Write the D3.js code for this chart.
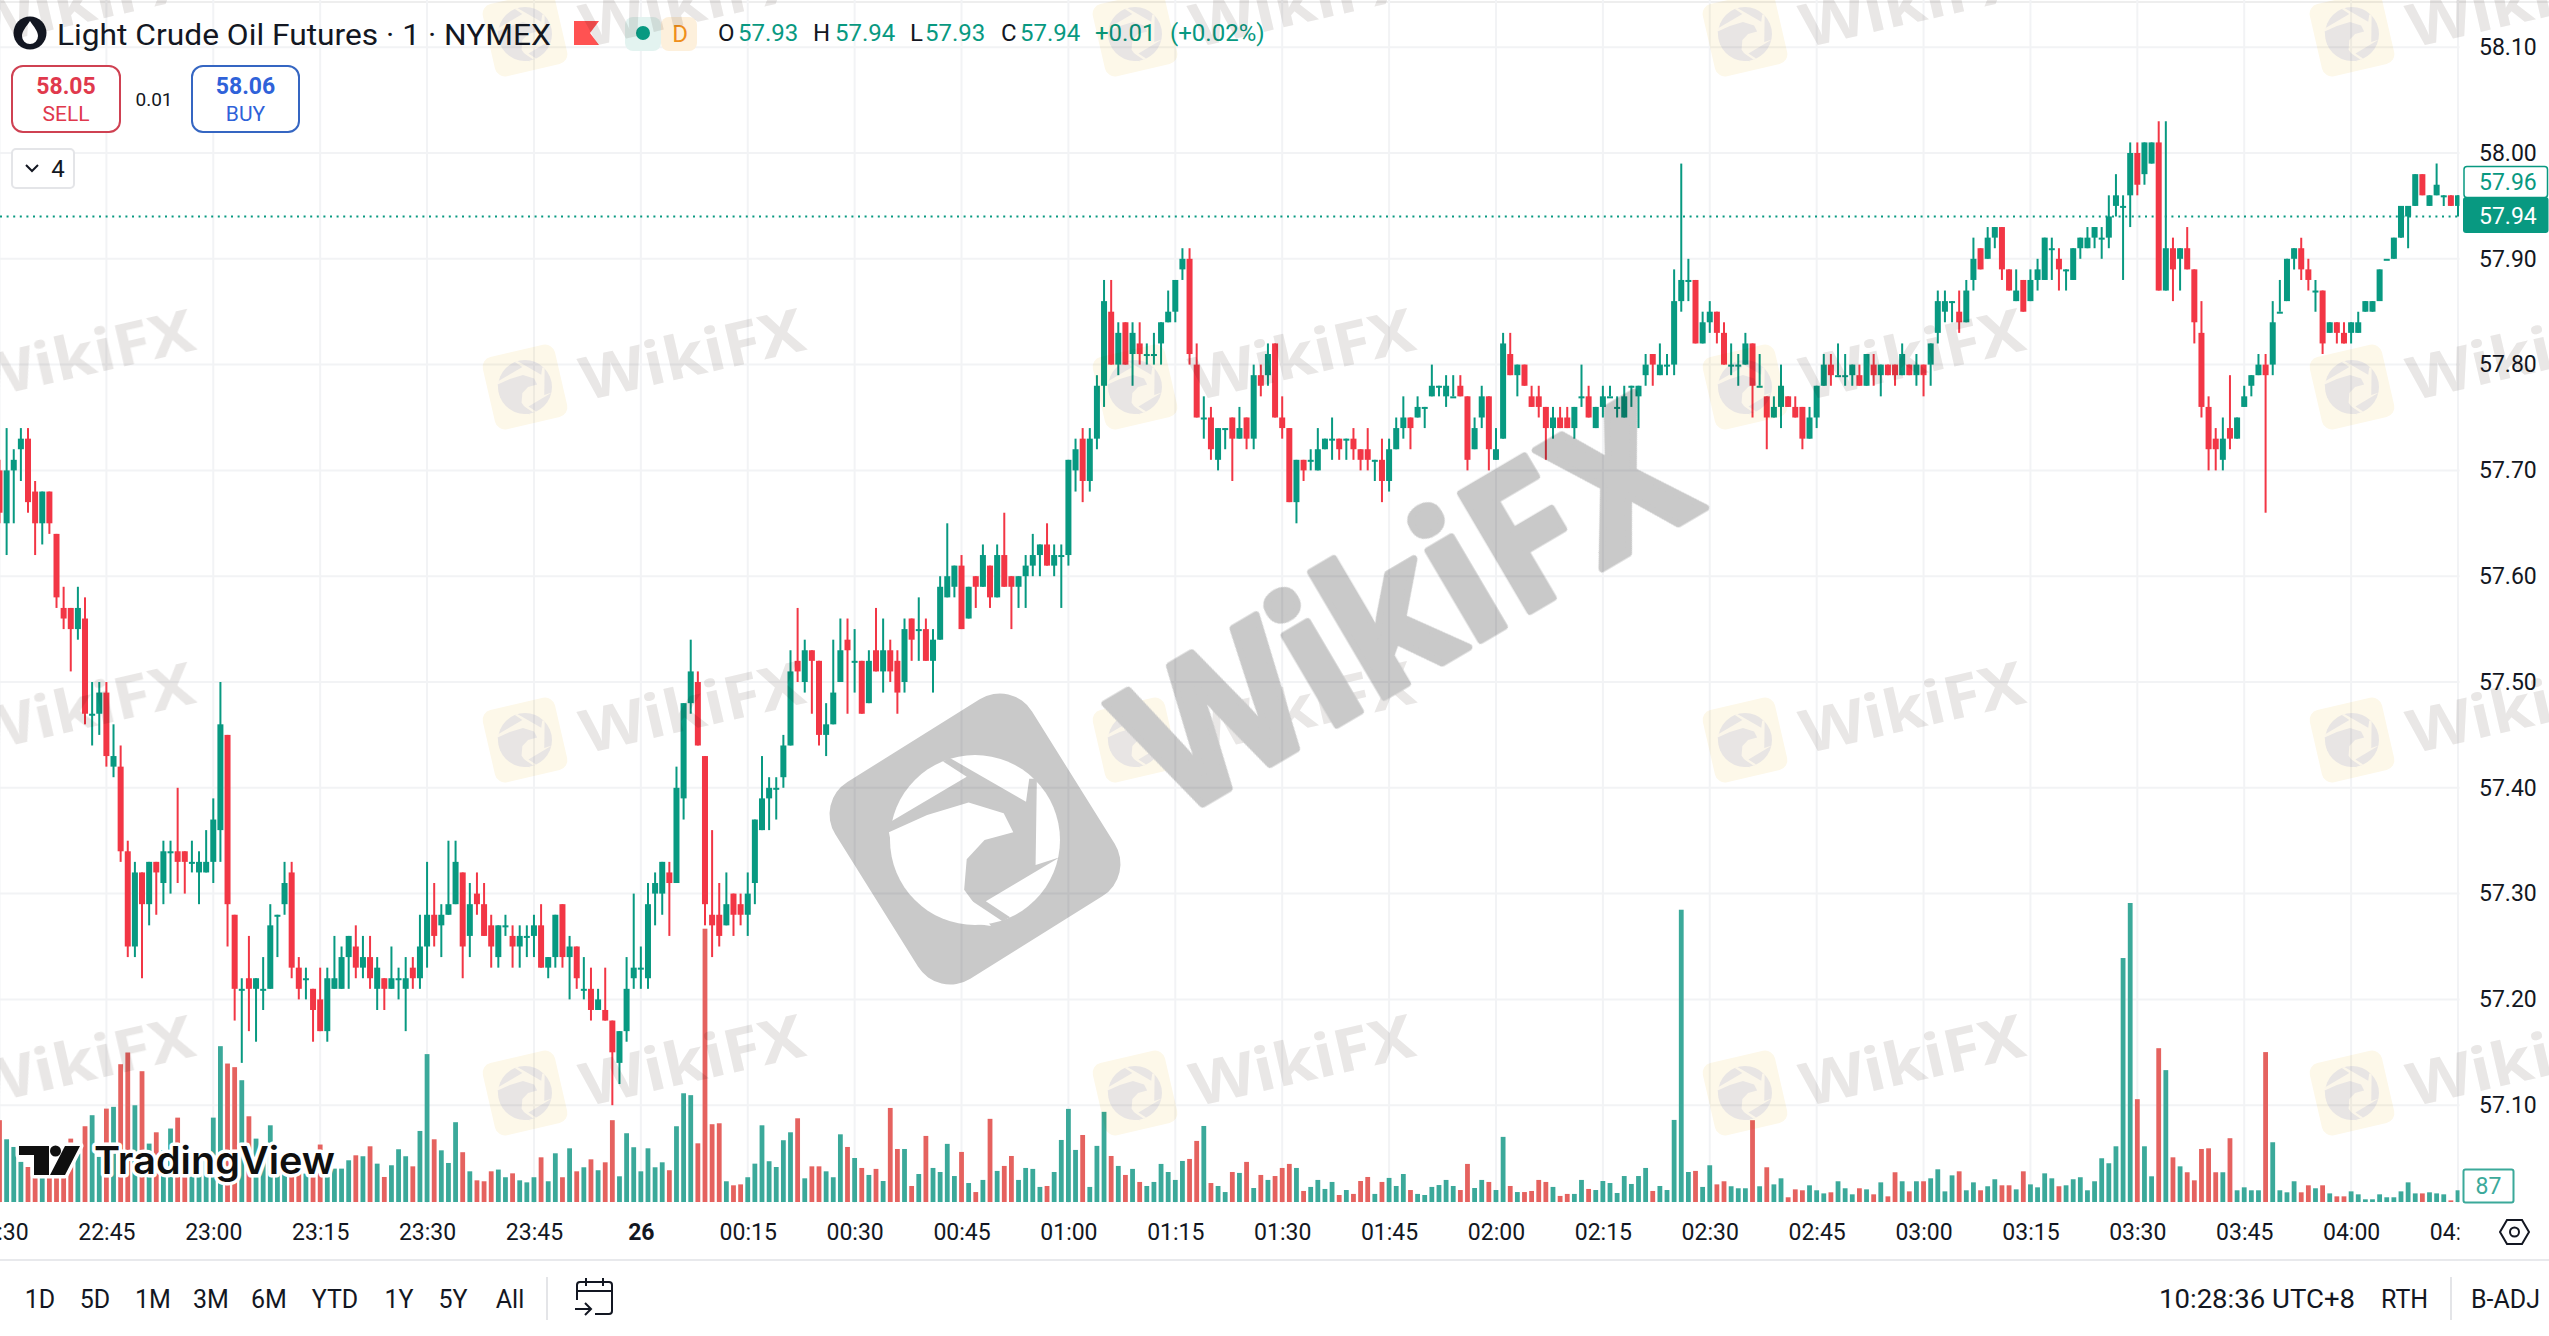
<!DOCTYPE html>
<html>
<head>
<meta charset="utf-8">
<script src="https://cdn.jsdelivr.net/npm/d3@7/dist/d3.min.js"></script>
<style>
  html, body { margin: 0; padding: 0; background: #fff; }
  svg { display: block; }
  text { font-family: Roboto, sans-serif; fill: #131722; }
  .axis path, .axis line { display: none; }
  .wm { mix-blend-mode: multiply; }
</style>
</head>
<body>
<svg id="chart" width="2549" height="1336"></svg>
<script>
// prices are stored in cents above 57.00, one row = 15 one-minute bars
const priceBase = 57;

const opens = [
  70,65,70,72,73,68,65,68,64,57,57,55,56,47,47,
  49,42,42,34,25,32,29,33,31,34,34,34,33,32,32,
  33,36,45,28,21,22,21,21,21,28,29,32,23,22,21,
  20,17,21,21,24,25,23,24,21,22,21,22,21,23,22,
  25,28,27,28,29,32,26,30,29,27,24,27,26,25,26,
  26,27,23,24,29,24,25,21,21,19,19,18,14,17,22,
  23,22,30,30,32,31,39,48,50,43,28,28,27,30,29,
  28,31,36,39,40,41,44,52,50,53,52,45,46,50,54,
  52,52,48,53,51,53,52,50,56,55,55,52,54,58,59,
  61,56,60,59,61,58,62,60,59,60,61,62,63,61,62,
  62,70,73,69,73,78,85,80,84,81,82,81,81,82,84,
  85,89,90,80,75,75,71,74,75,73,75,73,79,79,82,
  75,74,67,71,71,70,72,73,73,73,73,72,72,71,71,
  69,72,74,75,75,76,77,78,77,77,78,77,72,75,77,
  71,73,81,79,80,77,77,76,74,75,75,74,77,77,74,
  76,77,76,75,78,77,79,81,79,80,80,86,88,88,82,
  84,85,83,80,80,80,82,78,77,75,76,77,76,76,73,
  75,78,80,79,79,79,79,78,80,79,80,80,79,80,79,
  80,80,83,85,86,85,84,88,91,90,92,93,89,86,88,
  86,88,88,91,90,89,88,91,91,92,92,92,95,95,96,
  100,98,99,101,87,91,90,91,89,83,76,73,71,74,73,
  76,78,79,80,80,85,86,90,91,89,87,87,83,84,83,
  83,83,85,85,86,90,90,92,94,95,98,95,96,96,96,95
];
const highs = [
  71,74,72,74,74,69,68,68,64,59,57,59,58,50,50,
  50,46,44,35,33,32,33,33,35,35,40,34,35,34,36,
  39,50,45,28,22,26,22,24,29,28,33,33,24,23,21,
  23,23,26,25,26,27,26,26,24,22,25,23,24,24,28,
  33,31,29,35,35,32,31,32,31,28,27,28,27,27,27,
  28,29,24,28,29,26,25,24,23,21,23,18,17,24,30,
  25,31,32,33,33,42,48,54,51,43,36,31,32,30,30,
  32,37,43,41,41,45,53,57,54,53,52,48,54,56,56,
  55,52,53,57,56,54,53,56,56,58,56,55,60,65,61,
  62,59,60,63,61,63,66,60,60,62,64,63,65,63,63,
  71,73,74,74,79,88,88,84,84,84,84,82,83,84,87,
  88,91,91,82,77,76,74,74,75,76,75,80,80,82,82,
  77,74,71,71,72,74,73,75,73,73,74,72,74,71,73,
  73,75,77,75,77,76,80,78,79,79,79,77,75,78,77,
  74,83,83,80,80,78,78,76,76,76,76,76,80,78,76,
  78,78,77,78,78,78,81,81,82,81,89,99,90,88,85,
  86,85,84,82,81,83,82,81,77,77,80,77,77,76,76,
  78,81,81,82,81,80,80,81,81,80,80,80,82,80,81,
  80,82,87,87,86,87,88,92,91,93,93,93,89,89,88,
  89,90,92,92,91,89,91,92,93,93,93,96,98,96,101,
  101,101,101,103,103,92,91,93,89,86,77,74,75,79,75,
  78,79,81,81,86,88,90,91,92,90,88,87,84,84,84,
  84,85,86,86,89,90,92,95,95,98,98,96,99,96,96,96
];
const lows = [
  65,62,65,69,66,62,63,64,57,55,51,54,46,44,45,
  42,41,33,24,24,22,27,28,29,30,31,30,32,29,32,
  31,33,25,18,14,17,16,19,21,24,28,22,20,20,16,
  17,16,21,21,21,22,22,21,19,19,21,20,17,21,21,
  23,25,24,28,29,22,24,28,26,23,23,26,23,23,24,
  24,23,22,23,23,20,21,20,18,19,18,10,12,16,21,
  21,21,27,28,26,31,37,47,44,27,24,25,27,26,27,
  26,29,36,36,37,40,44,50,49,47,44,43,46,50,47,
  49,47,48,51,49,50,47,49,52,52,52,49,54,58,58,
  55,56,57,59,57,58,59,55,57,57,60,60,61,60,57,
  61,68,67,68,72,76,80,79,80,78,80,80,80,80,84,
  84,88,80,75,73,71,70,72,69,73,72,72,77,78,75,
  73,67,65,69,70,70,72,71,71,71,71,70,70,69,67,
  68,72,73,72,75,74,77,77,76,77,77,70,72,74,70,
  71,73,79,77,78,76,75,71,73,74,74,73,76,75,74,
  75,77,75,75,76,74,78,78,79,79,79,85,86,82,82,
  83,82,80,79,78,80,75,78,72,75,74,76,75,72,73,
  74,78,78,79,78,78,78,78,78,77,79,78,79,79,78,
  77,78,82,84,84,83,84,87,89,90,91,88,87,86,85,
  86,87,88,88,87,87,88,90,91,91,90,91,94,88,93,
  96,97,99,87,87,86,87,89,82,75,70,70,70,72,73,
  76,77,79,66,79,85,86,89,88,87,85,81,83,82,82,
  82,83,85,85,86,90,90,92,91,95,96,95,96,95,95,94
];
const closes = [
  66,70,71,73,67,65,68,65,58,56,55,57,47,47,49,
  43,43,34,25,32,29,33,32,34,34,33,33,33,33,33,
  37,46,29,21,21,21,22,21,27,28,31,23,21,22,19,
  17,22,22,24,26,23,24,22,23,21,22,22,22,22,25,
  28,26,28,29,33,25,29,29,26,25,27,27,25,26,26,
  27,23,24,28,24,25,22,21,19,20,18,15,17,21,23,
  23,29,31,33,31,40,48,51,44,29,27,26,29,28,28,
  30,37,39,40,40,44,51,51,53,52,45,46,49,53,53,
  52,47,52,51,53,51,49,55,54,55,52,54,59,60,61,
  55,59,59,62,58,62,59,59,60,61,62,63,61,62,62,
  71,72,69,73,78,86,80,83,80,83,81,81,81,84,85,
  88,90,81,75,75,72,74,74,73,74,73,79,78,81,75,
  74,67,71,70,71,72,73,73,72,73,72,71,71,71,69,
  72,74,75,74,76,76,78,78,78,77,77,71,74,77,72,
  72,82,79,80,78,76,76,74,75,74,74,76,77,75,76,
  77,77,76,77,78,78,80,80,80,80,86,88,88,82,84,
  85,83,80,80,80,82,78,78,75,76,78,76,75,73,75,
  78,80,79,79,79,80,78,81,79,80,79,79,81,79,80,
  79,82,86,86,86,84,87,90,89,92,93,89,87,87,85,
  88,89,92,91,89,89,91,92,92,93,92,94,96,95,100,
  97,101,101,87,91,89,91,89,84,76,72,72,73,73,75,
  77,79,80,79,84,85,90,91,89,88,87,82,84,83,82,
  84,84,86,86,89,90,92,95,95,98,96,96,97,96,95,96
];
const volumes = [
  608,466,409,298,260,236,211,236,260,223,471,360,563,645,335,
  694,707,1024,1111,719,972,434,518,384,546,627,335,285,360,310,
  627,1158,1029,1002,905,637,471,384,570,236,211,211,260,211,198,
  427,236,248,248,310,347,340,414,285,186,273,392,340,265,528,
  1099,466,384,290,593,370,228,161,154,228,241,184,213,161,146,
  184,332,154,362,184,399,228,258,317,236,295,608,191,511,407,
  228,399,258,295,236,563,808,794,436,2031,578,585,154,124,131,
  184,285,570,303,260,459,518,622,176,265,265,228,184,503,409,
  327,253,201,246,156,699,394,394,119,208,491,253,223,432,193,
  372,141,74,164,618,231,268,342,164,253,246,112,119,223,461,
  692,387,498,112,417,670,342,268,201,246,149,119,149,283,223,
  164,305,320,454,565,141,119,74,223,216,298,104,201,164,193,
  253,283,253,82,112,164,97,149,52,89,60,156,186,60,149,
  179,119,208,89,60,52,112,126,164,119,89,283,104,164,149,
  89,484,119,74,74,82,164,149,112,45,60,60,164,97,89,
  156,141,67,193,134,193,253,82,119,89,610,2172,223,231,112,
  273,131,154,117,102,102,608,117,258,131,176,35,94,87,124,
  87,64,72,154,102,57,102,94,57,146,42,221,154,79,154,
  154,176,243,79,198,228,87,146,87,117,169,124,124,94,228,
  131,109,213,176,117,124,169,184,87,154,325,288,414,1813,2222,
  764,414,191,1143,980,332,265,221,161,394,399,221,221,474,87,
  109,87,87,1114,444,87,72,154,72,124,102,124,64,42,42,
  79,57,20,20,57,35,35,79,146,64,64,72,64,57,12,87
];

// one label every 15 bars, the first sits at bar 0 (22:30)
const timeLabels = [
  "22:30","22:45","23:00","23:15","23:30","23:45","26","00:15","00:30","00:45","01:00","01:15",
  "01:30","01:45","02:00","02:15","02:30","02:45","03:00","03:15","03:30","03:45","04:00","04:15"
];
const priceTicks = [58.10,58.00,57.90,57.80,57.70,57.60,57.50,57.40,57.30,57.20,57.10];
const rangeButtons = ["1D","5D","1M","3M","6M","YTD","1Y","5Y","All"];
const rangeButtonX = [40,95,153,211,269,335,399,453,510];

const lastPrice = 57.94;
const bidLinePrice = "57.96";

const upColor = "#089981", downColor = "#f23645";
const upVol = "#3ba99a", downVol = "#e5625f";
const gridColor = "#f2f3f5";

const bars = d3.range(opens.length).map(i => ({
  i,
  open: priceBase + opens[i] / 100,
  high: priceBase + highs[i] / 100,
  low: priceBase + lows[i] / 100,
  close: priceBase + closes[i] / 100,
  vol: volumes[i],
  up: closes[i] >= opens[i]
}));

const paneRight = 2460, volBase = 1202;

const x = d3.scaleLinear().domain([0, 345]).range([-0.5, 2458]);
const y = d3.scaleLinear().domain([58, 57]).range([153, 1211]);
const yVol = d3.scaleLinear().domain([0, 2222]).range([volBase, volBase - 299]);

const svg = d3.select("#chart");
svg.append("rect").attr("width", 2549).attr("height", 1336).attr("fill", "#fff");

svg.append("defs").append("clipPath").attr("id", "pane")
  .append("rect").attr("x", 0).attr("y", 0).attr("width", paneRight - 0.5).attr("height", 1336);

// top edge and axis separator
svg.append("line").attr("x1", 0).attr("x2", 2549).attr("y1", 2).attr("y2", 2)
  .attr("stroke", "#eeeeee").attr("stroke-width", 2);
svg.append("line").attr("x1", 0).attr("x2", 2549).attr("y1", 1260).attr("y2", 1260)
  .attr("stroke", "#e8e9ec").attr("stroke-width", 2);

// Grid
const grid = svg.append("g").attr("clip-path", "url(#pane)");
grid.selectAll(".hgrid").data(priceTicks).enter().append("line")
  .attr("class", "hgrid")
  .attr("x1", 0).attr("x2", paneRight)
  .attr("y1", d => y(d)).attr("y2", d => y(d))
  .attr("stroke", gridColor).attr("stroke-width", 2);
grid.selectAll(".vgrid").data(timeLabels).enter().append("line")
  .attr("class", "vgrid")
  .attr("x1", (d, i) => x(i * 15)).attr("x2", (d, i) => x(i * 15))
  .attr("y1", 0).attr("y2", volBase + 1)
  .attr("stroke", gridColor).attr("stroke-width", 2);

const plot = svg.append("g").attr("clip-path", "url(#pane)");

// Volume
plot.selectAll(".vol").data(bars).enter().append("rect")
  .attr("class", "vol")
  .attr("x", d => x(d.i) - 2.4)
  .attr("width", 4.8)
  .attr("y", d => yVol(d.vol))
  .attr("height", d => volBase - yVol(d.vol))
  .attr("fill", d => d.up ? upVol : downVol);

// Last price line
plot.append("line")
  .attr("x1", 0).attr("x2", paneRight)
  .attr("y1", y(lastPrice)).attr("y2", y(lastPrice))
  .attr("stroke", upColor).attr("stroke-width", 2).attr("stroke-dasharray", "2 4.6");

// Candles
plot.selectAll(".wick").data(bars).enter().append("line")
  .attr("class", "wick")
  .attr("x1", d => x(d.i)).attr("x2", d => x(d.i))
  .attr("y1", d => y(d.high)).attr("y2", d => y(d.low))
  .attr("stroke", d => d.up ? upColor : downColor)
  .attr("stroke-width", 2);
plot.selectAll(".body").data(bars).enter().append("rect")
  .attr("class", "body")
  .attr("x", d => x(d.i) - 3)
  .attr("width", 6)
  .attr("y", d => y(Math.max(d.open, d.close)))
  .attr("height", d => Math.max(2, Math.abs(y(d.open) - y(d.close))))
  .attr("fill", d => d.up ? upColor : downColor);

// Time axis, labels are clipped by the pane like the original
const timeAxis = d3.axisBottom(x)
  .tickValues(timeLabels.map((d, i) => i * 15))
  .tickFormat((d, i) => timeLabels[i])
  .tickSize(0).tickPadding(0);
const timeG = svg.append("g").attr("clip-path", "url(#pane)")
  .append("g").attr("class", "axis")
  .attr("transform", "translate(0,1222)")
  .call(timeAxis);
timeG.selectAll("text")
  .style("font-family", "Roboto, sans-serif").style("font-size", "23px")
  .style("font-weight", d => d === 90 ? 700 : 400)
  .attr("dy", "0.8em").attr("y", 0);

// Price axis
const priceAxis = d3.axisRight(y)
  .tickValues(priceTicks).tickFormat(d3.format(".2f"))
  .tickSize(0).tickPadding(0);
const priceG = svg.append("g").attr("class", "axis")
  .attr("transform", "translate(2479,0)")
  .call(priceAxis);
priceG.selectAll("text")
  .style("font-family", "Roboto, sans-serif").style("font-size", "23px");

// Price tags
svg.append("rect").attr("x", 2464).attr("y", 166.5).attr("width", 83.5).attr("height", 31)
  .attr("rx", 3).attr("fill", "#fff").attr("stroke", upColor).attr("stroke-width", 1.5);
svg.append("text").attr("x", 2479).attr("y", 190).text(bidLinePrice)
  .style("font-size", "23px").style("fill", upColor);
svg.append("rect").attr("x", 2463).attr("y", 197).attr("width", 85.5).attr("height", 36)
  .attr("rx", 3).attr("fill", upColor);
svg.append("text").attr("x", 2479).attr("y", 224).text(d3.format(".2f")(lastPrice))
  .style("font-size", "23px").style("fill", "#fff");
svg.append("rect").attr("x", 2463.5).attr("y", 1169.5).attr("width", 50).attr("height", 33)
  .attr("rx", 2).attr("fill", "#fff").attr("stroke", upVol).attr("stroke-width", 2);
svg.append("text").attr("x", 2488.5).attr("y", 1194).attr("text-anchor", "middle")
  .text(volumes[volumes.length - 1]).style("font-size", "23px").style("fill", upVol);

// Header
svg.append("circle").attr("cx", 30).attr("cy", 33).attr("r", 16.5).attr("fill", "#131722");
svg.append("path").attr("d", "M30 21 C34 27 38 31 38 36 A8 8 0 0 1 22 36 C22 31 26 27 30 21Z").attr("fill", "#fff");
svg.append("text").attr("x", 57).attr("y", 45).text("Light Crude Oil Futures · 1 · NYMEX")
  .attr("textLength", 494).attr("lengthAdjust", "spacingAndGlyphs").style("font-size", "29px");
svg.append("path").attr("d", "M574 21 H599 L590 33 L599 45 H574 Z").attr("fill", "#ff5252");
svg.append("rect").attr("x", 625).attr("y", 17).attr("width", 36).attr("height", 34).attr("rx", 8).attr("fill", "#e3f3f0");
svg.append("rect").attr("x", 661).attr("y", 17).attr("width", 36).attr("height", 34).attr("rx", 8).attr("fill", "#fdf0dc");
svg.append("circle").attr("cx", 643).attr("cy", 33).attr("r", 7).attr("fill", upColor);
svg.append("text").attr("x", 680).attr("y", 42).attr("text-anchor", "middle").text("D")
  .style("font-size", "24px").style("fill", "#ef8f1c");

const ohlcParts = [
  ["O", 718, "#131722"], ["57.93", 738, upColor],
  ["H", 813, "#131722"], ["57.94", 835, upColor],
  ["L", 910, "#131722"], ["57.93", 925, upColor],
  ["C", 1001, "#131722"], ["57.94", 1020, upColor],
  ["+0.01", 1095, upColor], ["(+0.02%)", 1170, upColor]
];
svg.selectAll(".ohlc").data(ohlcParts).enter().append("text")
  .attr("class", "ohlc")
  .attr("x", d => d[1]).attr("y", 41).text(d => d[0])
  .style("font-size", "24px").style("fill", d => d[2]);

// Sell / buy
const tradeBoxes = [
  { x: 12, w: 108, price: "58.05", side: "SELL", stroke: "#cf4152", color: "#e0394d" },
  { x: 192, w: 107, price: "58.06", side: "BUY", stroke: "#3566c2", color: "#2f62d9" }
];
tradeBoxes.forEach(b => {
  svg.append("rect").attr("x", b.x).attr("y", 66).attr("width", b.w).attr("height", 66)
    .attr("rx", 11).attr("fill", "#fff").attr("stroke", b.stroke).attr("stroke-width", 2);
  svg.append("text").attr("x", b.x + b.w / 2).attr("y", 94).attr("text-anchor", "middle").text(b.price)
    .style("font-size", "23px").style("font-weight", 700).style("fill", b.color);
  svg.append("text").attr("x", b.x + b.w / 2).attr("y", 121).attr("text-anchor", "middle").text(b.side)
    .style("font-size", "21px").style("fill", b.color);
});
svg.append("text").attr("x", 154).attr("y", 106).attr("text-anchor", "middle").text("0.01").style("font-size", "19px");

svg.append("rect").attr("x", 12).attr("y", 149).attr("width", 62).attr("height", 39)
  .attr("rx", 4).attr("fill", "#fff").attr("stroke", "#e4e5e8").attr("stroke-width", 2);
svg.append("path").attr("d", "M26 165 L32 171 L38 165").attr("fill", "none").attr("stroke", "#131722").attr("stroke-width", 2);
svg.append("text").attr("x", 58).attr("y", 177).attr("text-anchor", "middle").text("4").style("font-size", "24px");

// Bottom toolbar
svg.selectAll(".range").data(rangeButtons).enter().append("text")
  .attr("class", "range")
  .attr("x", (d, i) => rangeButtonX[i]).attr("y", 1308)
  .attr("text-anchor", "middle").text(d => d)
  .style("font-size", "25px");
svg.append("line").attr("x1", 547).attr("x2", 547).attr("y1", 1277).attr("y2", 1320).attr("stroke", "#e4e5e8").attr("stroke-width", 2);
svg.append("path")
  .attr("d", "M577 1300 V1285 Q577 1282 580 1282 H609 Q612 1282 612 1285 V1311 Q612 1314 609 1314 H595 M577 1291 H612 M586 1278 V1286 M603 1278 V1286 M575 1309 H591 M585 1303 L591 1309 L585 1315")
  .attr("fill", "none").attr("stroke", "#131722").attr("stroke-width", 2);
svg.append("text").attr("x", 2159).attr("y", 1308).text("10:28:36 UTC+8").attr("textLength", 196).attr("lengthAdjust", "spacingAndGlyphs").style("font-size", "25px");
svg.append("text").attr("x", 2381).attr("y", 1308).text("RTH").style("font-size", "25px");
svg.append("line").attr("x1", 2451).attr("x2", 2451).attr("y1", 1277).attr("y2", 1320).attr("stroke", "#e4e5e8").attr("stroke-width", 2);
svg.append("text").attr("x", 2471).attr("y", 1308).text("B-ADJ").style("font-size", "25px");

// Settings hexagon
svg.append("path").attr("d", "M2507 1220 H2522 L2529 1232 L2522 1244 H2507 L2500 1232 Z")
  .attr("fill", "none").attr("stroke", "#131722").attr("stroke-width", 2);
svg.append("circle").attr("cx", 2514.5).attr("cy", 1232).attr("r", 4.5).attr("fill", "none").attr("stroke", "#131722").attr("stroke-width", 2);

// TradingView badge
const tvBadge = svg.append("g");
const tvShapes = "M19 1146 H49 V1175 H34 V1155 H19 Z M65 1146 H80 L65 1175 H50 Z";
tvBadge.append("path").attr("d", tvShapes).attr("fill", "#fff").attr("stroke", "#fff").attr("stroke-width", 7).attr("stroke-linejoin", "round");
tvBadge.append("circle").attr("cx", 55.5).attr("cy", 1151).attr("r", 9).attr("fill", "#fff");
tvBadge.append("path").attr("d", tvShapes).attr("fill", "#0f0f0f");
tvBadge.append("circle").attr("cx", 55.5).attr("cy", 1151).attr("r", 5.5).attr("fill", "#0f0f0f");
tvBadge.append("text").attr("x", 94).attr("y", 1174).text("TradingView")
  .attr("textLength", 241).attr("lengthAdjust", "spacingAndGlyphs")
  .style("font-family", "Inter, sans-serif").style("font-size", "38px").style("font-weight", 600)
  .style("fill", "#0f0f0f").style("paint-order", "stroke")
  .style("stroke", "#fff").style("stroke-width", "7px").style("stroke-linejoin", "round");

// Watermarks drawn on top, multiplied so the candles stay visible
const wm = svg.append("g").attr("class", "wm");

const eagleInner = "M140 1105 L262 985 L225 945 L235 935 L355 1050 L360 990 L372 990 L370 1215 L408 1195 L292 1310 L330 1352 L318 1362 L262 1300 L140 1130 Z";
const eagleHead = "M140 1130 L200 1085 L265 1052 L320 1080 L335 1130 L290 1150 L262 1200 L258 1280 L300 1375 L240 1360 L180 1300 L150 1215 Z";

function drawEagle(g, cx, cy, r, base, line) {
  g.append("circle").attr("cx", cx).attr("cy", cy).attr("r", r).attr("fill", base);
  const e = g.append("g")
    .attr("transform", `translate(${cx},${cy}) scale(${r / 85}) scale(${1 / 1.568},${1 / 2.613}) translate(-275,-1150)`);
  e.append("path").attr("d", eagleInner).attr("fill", line);
  e.append("path").attr("d", eagleHead).attr("fill", base);
}

const tileLogoX = [-85, 525, 1135, 1745, 2352];
const tileLogoY = [34, 387, 740, 1093];
tileLogoY.forEach(ly => {
  tileLogoX.forEach(lx => {
    const tile = wm.append("g");
    tile.append("rect")
      .attr("x", lx - 37).attr("y", ly - 37).attr("width", 74).attr("height", 74).attr("rx", 10)
      .attr("transform", `rotate(-13,${lx},${ly})`).attr("fill", "#fdf8e9");
    drawEagle(tile.append("g"), lx, ly, 27, "#e8e5e4", "#fbf6ea");
    tile.append("text")
      .attr("transform", `translate(${lx + 172},${ly - 12}) rotate(-13)`)
      .attr("text-anchor", "middle").text("WikiFX")
      .attr("textLength", 228).attr("lengthAdjust", "spacingAndGlyphs")
      .style("font-family", "'Noto Sans', sans-serif").style("font-size", "60px").style("font-weight", 700)
      .style("fill", "#e9e7e6");
  });
});

// Large centre watermark
const big = wm.append("g");
big.append("rect").attr("x", 975 - 116).attr("y", 839 - 116).attr("width", 232).attr("height", 232).attr("rx", 38)
  .attr("transform", "rotate(-32,975,839)").attr("fill", "#c9c9c9");
drawEagle(big.append("g"), 975, 840, 85, "#fff", "#c9c9c9");
big.append("text")
  .attr("transform", "translate(1174,821) rotate(-30.5)")
  .text("WikiFX")
  .attr("textLength", 618).attr("lengthAdjust", "spacingAndGlyphs")
  .style("font-family", "'Noto Sans', sans-serif").style("font-size", "190px").style("font-weight", 700)
  .style("fill", "#c9c9c9").style("stroke", "#c9c9c9").style("stroke-width", "7px").style("stroke-linejoin", "round");
</script>
</body>
</html>
